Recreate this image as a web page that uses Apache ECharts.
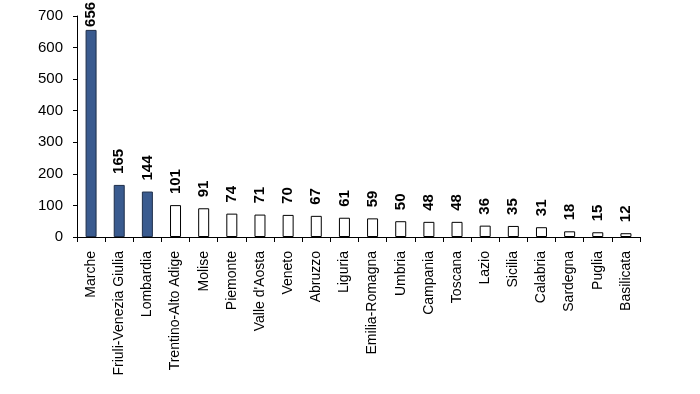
<!DOCTYPE html>
<html><head><meta charset="utf-8">
<script src="https://cdn.jsdelivr.net/npm/echarts@6/dist/echarts.min.js"></script>
<style>html,body{margin:0;padding:0;background:#fff}#c{width:700px;height:394px}</style>
</head><body><div id="c"></div>
<script>
const categories = ["Marche","Friuli-Venezia Giulia","Lombardia","Trentino-Alto Adige","Molise","Piemonte","Valle d'Aosta","Veneto","Abruzzo","Liguria","Emilia-Romagna","Umbria","Campania","Toscana","Lazio","Sicilia","Calabria","Sardegna","Puglia","Basilicata"];
const values = [656,165,144,101,91,74,71,70,67,61,59,50,48,48,36,35,31,18,15,12];
const highlighted = [true,true,true,false,false,false,false,false,false,false,false,false,false,false,false,false,false,false,false,false];
const yTicks = [0,100,200,300,400,500,600,700];

const chart = echarts.init(document.getElementById('c'), null, {renderer:'canvas'});
const font = 'Liberation Sans, Arial, sans-serif';
chart.setOption({
  animation:false,
  grid:{left:77,right:60,top:16,bottom:157,containLabel:false},
  xAxis:{type:'category',data:categories,
    axisLine:{lineStyle:{color:'#000',width:1}},
    axisTick:{show:true,length:5,lineStyle:{color:'#000'},alignWithLabel:false},
    axisLabel:{rotate:90,color:'#000',fontFamily:font,fontSize:14,margin:14,interval:0}},
  yAxis:{type:'value',min:yTicks[0],max:yTicks[yTicks.length-1],interval:100,
    axisLine:{show:true,lineStyle:{color:'#000'}},
    axisTick:{show:true,length:4,lineStyle:{color:'#000'}},
    splitLine:{show:false},
    axisLabel:{color:'#000',fontFamily:font,fontSize:15,margin:14}},
  series:[{type:'bar',barWidth:11,
    data:values.map((v,i)=>({value:v,
      itemStyle:{color:highlighted[i]?'#3a5b8f':'#ffffff',borderColor:highlighted[i]?'#1f2f4a':'#000',borderWidth:1},
      label:i===0?{distance:3}:undefined})),
    label:{show:true,position:'top',rotate:90,align:'left',verticalAlign:'middle',distance:11,
      color:'#000',fontFamily:font,fontSize:15,fontWeight:'bold'}}]
});
</script></body></html>
